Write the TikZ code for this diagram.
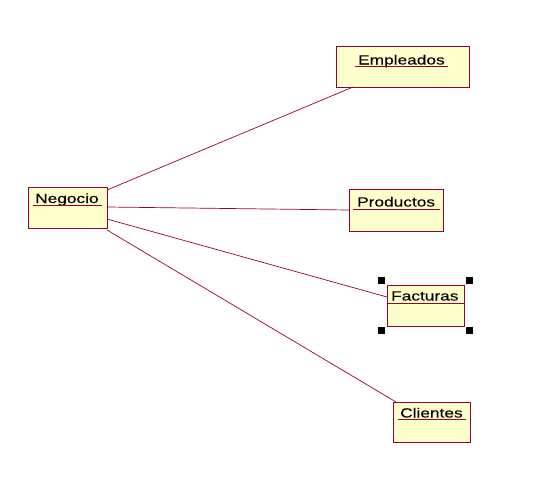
\documentclass[tikz,border=0pt]{standalone}
\usepackage{fontspec}
\newfontfamily\umlfont[FakeStretch=1.3,FakeBold=0.12]{Liberation Sans}
\definecolor{roseborder}{HTML}{990033}
\definecolor{rosefill}{HTML}{FFFFCC}
\begin{document}
\begin{tikzpicture}[x=1pt,y=-1pt,
  cls/.style={draw=roseborder,fill=rosefill,line width=1pt},
  lbl/.style={anchor=base west,inner sep=0pt,font=\umlfont\fontsize{13.3}{15}\selectfont},
  ul/.style={draw=roseborder,line width=0.9pt},
  assoc/.style={draw=roseborder,line width=0.7pt},
  handle/.style={fill=black}]
\useasboundingbox (0,0) rectangle (546,479);
% boxes
\path[cls] (28,187) rectangle (107,228);
\path[cls] (336,46) rectangle (469,87);
\path[cls] (349,189) rectangle (443,231);
\path[cls] (387,285) rectangle (464,326);
\path[cls] (393,402) rectangle (470,442);
% labels
\node[lbl] (neg) at (35,203) {Negocio};
\node[lbl] (emp) at (358,64.5) {Empleados};
\node[lbl] (pro) at (357,206.5) {Productos};
\node[lbl] (fac) at (391,300.5) {Facturas};
\node[lbl] (cli) at (400,417.5) {Clientes};
% underlines
\draw[ul] (33,205.5) -- (102,205.5);
\draw[ul] (355,66.5) -- (448,66.5);
\draw[ul] (353,209) -- (440,209);
\draw[ul] (387,303) -- (464,303);
\draw[ul] (398,419.5) -- (466,419.5);
% connection points
\coordinate (n1) at (107,190);
\coordinate (n2) at (107,207);
\coordinate (n3) at (107,219);
\coordinate (n4) at (107,230);
\coordinate (e1) at (353,87);
\coordinate (p1) at (349,210);
\coordinate (f1) at (387,297);
\coordinate (c1) at (396,402);
\draw[assoc] (n1) -- (e1);
\draw[assoc] (n2) -- (p1);
\draw[assoc] (n3) -- (f1);
\draw[assoc] (n4) -- (c1);
% selection handles
\fill[handle] (377.5,276.5) rectangle (384.5,283.5);
\fill[handle] (465.5,276.5) rectangle (472.5,283.5);
\fill[handle] (377.5,326.5) rectangle (384.5,333.5);
\fill[handle] (465.5,326.5) rectangle (472.5,333.5);
\end{tikzpicture}
\end{document}
